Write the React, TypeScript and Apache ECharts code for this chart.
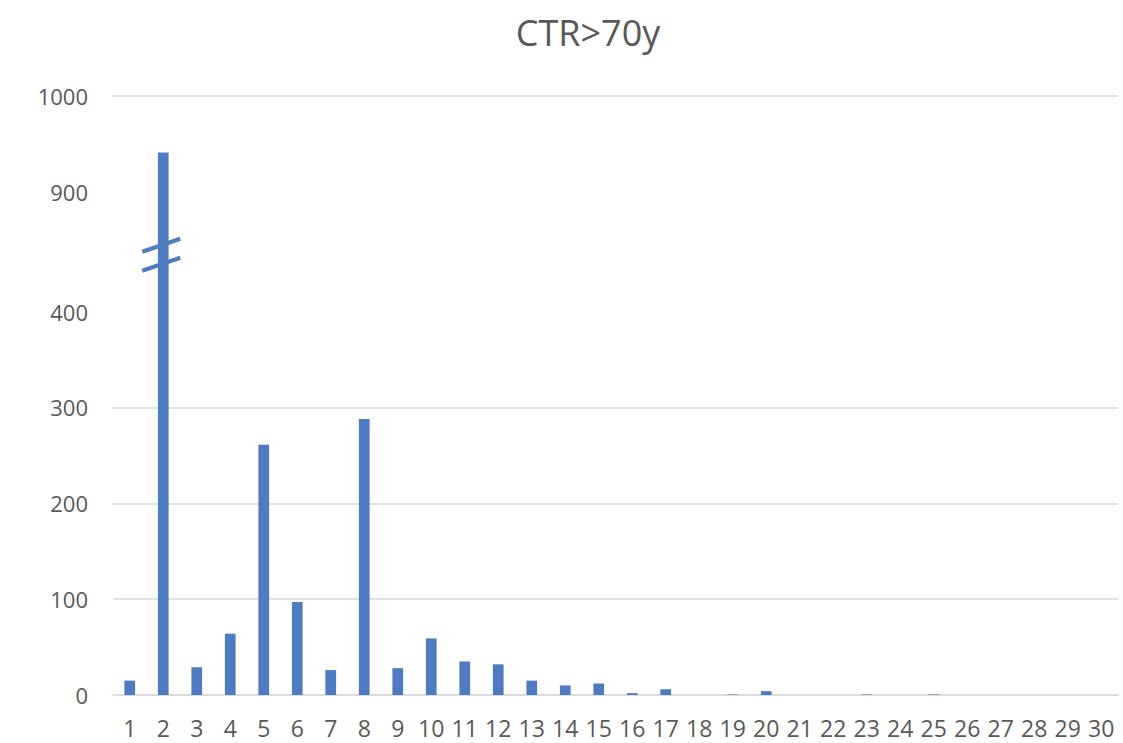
import React, { useEffect, useRef } from "react";
import * as echarts from "echarts";

const TITLE = "CTR>70y";
const categories = [
  "1", "2", "3", "4", "5", "6", "7", "8", "9", "10",
  "11", "12", "13", "14", "15", "16", "17", "18", "19", "20",
  "21", "22", "23", "24", "25", "26", "27", "28", "29", "30",
];
const counts = [
  15, 941, 29, 64, 261, 97, 26, 288, 28, 59,
  35, 32, 15, 10, 12, 2, 6, 0, 0.5, 4,
  0, 0, 0.5, 0, 0.5, 0, 0, 0, 0, 0,
];
const yMin = 0;
const yMax = 1000;
const yInterval = 100;
const breakStart = 400;
const breakEnd = 900;
const breakGap = 125;

const FONT = "'Open Sans', 'Liberation Sans', sans-serif";
const BLUE = "#4f7cc1";
const GREY_TEXT = "#595959";
const GRID = "#d9d9d9";

export default function App() {
  const ref = useRef<HTMLDivElement>(null);
  useEffect(() => {
    if (!ref.current) return;
    const chart = echarts.init(ref.current, null, { renderer: "svg" });
    chart.setOption({
      animation: false,
      backgroundColor: "#ffffff",
      title: {
        text: TITLE,
        left: 583,
        textAlign: "center",
        top: 9,
        textStyle: { fontFamily: FONT, fontSize: 36, fontWeight: "normal", color: GREY_TEXT },
      },
      grid: { left: 113, right: 5, top: 96, bottom: 48 },
      xAxis: {
        type: "category",
        data: categories,
        axisLine: { show: true, lineStyle: { color: GRID, width: 1.5 } },
        axisTick: { show: false },
        axisLabel: { color: GREY_TEXT, fontFamily: FONT, fontSize: 23, margin: 21, interval: 0 },
      },
      yAxis: {
        type: "value",
        min: yMin,
        max: yMax,
        interval: yInterval,
        breaks: [{ start: breakStart, end: breakEnd, gap: breakGap }],
        breakArea: {
          itemStyle: { color: "rgba(0,0,0,0)", borderColor: "rgba(0,0,0,0)", borderWidth: 0, opacity: 0 },
          zigzagAmplitude: 0,
        },
        axisLine: { show: false },
        axisTick: { show: false },
        axisLabel: {
          color: GREY_TEXT,
          fontFamily: FONT,
          fontSize: 22,
          margin: 25,
          formatter: (v: number) => String(v),
        },
        splitLine: { show: true, lineStyle: { color: GRID, width: 1.5 } },
      },
      series: [
        {
          type: "bar",
          data: counts,
          barWidth: "32%",
          itemStyle: { color: BLUE },
        },
      ],
    });

    // break marks on the bar that crosses the axis break
    const tallest = counts.indexOf(Math.max(...counts));
    const px = chart.convertToPixel({ gridIndex: 0 }, [tallest, breakStart]) as number[];
    const pyTop = chart.convertToPixel({ gridIndex: 0 }, [tallest, breakEnd]) as number[];
    if (px && pyTop) {
      const cx = px[0] - 2;
      const cy = (px[1] + pyTop[1]) / 2 + 3;
      const mk = (dy: number) => ({
        type: "line",
        shape: { x1: cx - 19, y1: cy + dy + 6.5, x2: cx + 19, y2: cy + dy - 6.5 },
        style: { stroke: BLUE, lineWidth: 4 },
        z: 100,
      });
      chart.setOption({ graphic: [mk(-9.5), mk(9.5)] });
    }
    return () => chart.dispose();
  }, []);
  return (
    <div
      ref={ref}
      style={{ position: "fixed", left: 0, top: 0, width: 1123, height: 743 }}
    />
  );
}
